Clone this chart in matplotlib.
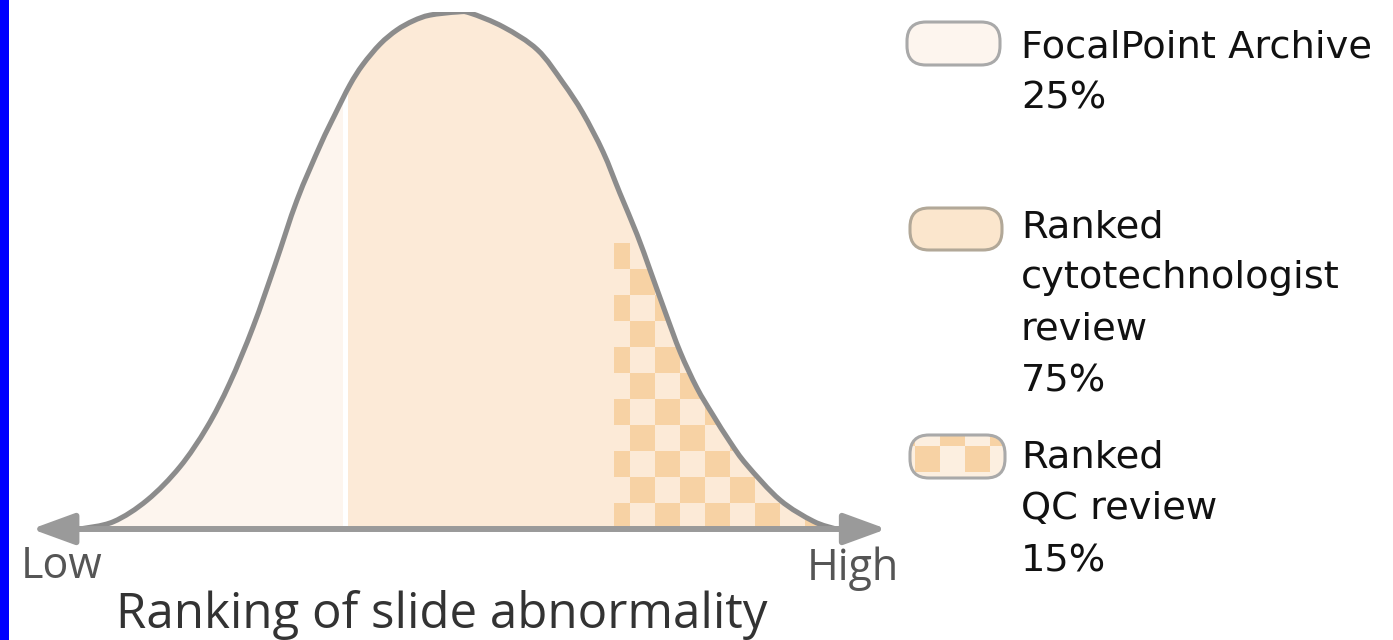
import numpy as np
import matplotlib.pyplot as plt
from matplotlib.patches import Rectangle, FancyBboxPatch, PathPatch
from matplotlib.path import Path

# bell curve: position on the ranking axis (0-100)
# and height as % of the peak
rank = [0, 4.4, 8.9, 13.2, 16.8, 19.8, 22.9, 25.8, 28.7, 31.8, 33.7, 35.7,
        37.4, 39.7, 41.9, 44.1, 46.3, 49.9, 51.6, 56.0, 60.5, 63.9, 66.5,
        69.2, 71.4, 73.7, 75.4, 77.4, 79.4, 81.6, 83.7, 86.0, 88.2, 92.6,
        97.0, 100]
height = [0, 1.4, 5.6, 12.0, 19.7, 28.2, 39.1, 51.1, 63.6, 74.3, 80.1, 85.9,
          89.8, 93.8, 96.5, 98.3, 99.4, 100, 99.8, 97.1, 92.7, 86.3, 80.5,
          72.9, 65.0, 56.9, 50.1, 42.0, 34.2, 27.3, 22.1, 16.8, 12.4, 5.6,
          1.5, 0]

archive_end = 35.1   # right edge of the FocalPoint Archive share
qc_start = 70.6      # left edge of the QC review share

legend_names = ["FocalPoint Archive", "Ranked\ncytotechnologist\nreview", "Ranked\nQC review"]
legend_pct = [25, 75, 15]

c_archive = "#fdf5ee"
c_ranked = "#fcead7"
c_check = "#f7d2a4"
c_curve = "#8c8c8c"
c_axis = "#9a9a9a"


def smooth_path(xs, ys, close=False):
    # Catmull-Rom through the read points, drawn as cubic Bezier segments
    pts = np.column_stack([xs, ys]).astype(float)
    n = len(pts)
    verts = [pts[0]]
    codes = [Path.MOVETO]
    for i in range(n - 1):
        p0 = pts[max(i - 1, 0)]
        p1 = pts[i]
        p2 = pts[i + 1]
        p3 = pts[min(i + 2, n - 1)]
        verts += [p1 + (p2 - p0) / 6, p2 - (p3 - p1) / 6, p2]
        codes += [Path.CURVE4] * 3
    if close:
        verts.append(pts[0])
        codes.append(Path.CLOSEPOLY)
    return Path(verts, codes)


W, H = 1393, 640
fig = plt.figure(figsize=(W / 100, H / 100), dpi=100)

# main chart axes: x 0..100 -> px 80..836, y 0..100 -> px 529..12
ax = fig.add_axes([80 / W, (H - 529) / H, 756 / W, 517 / H])
ax.set_xlim(0, 100)
ax.set_ylim(0, 100)
ax.axis("off")

shape = PathPatch(smooth_path(rank, height, close=True), facecolor=c_ranked,
                  edgecolor="none", zorder=1)
ax.add_patch(shape)

left = PathPatch(smooth_path(rank, height, close=True), facecolor=c_archive,
                 edgecolor="none", zorder=2)
ax.add_patch(left)
left.set_clip_path(Rectangle((0, 0), archive_end, 100, transform=ax.transData))

# checker pattern for the QC share
cw, ch = 3.31, 5.03
x0 = 69.4
for i in range(10):
    for j in range(11):
        if (i + j) % 2:
            continue
        xs = max(x0 + i * cw, qc_start)
        xe = x0 + (i + 1) * cw
        r = Rectangle((xs, j * ch), xe - xs, ch, facecolor=c_check,
                      edgecolor="none", zorder=3)
        ax.add_patch(r)
        r.set_clip_path(shape)

div = ax.axvline(archive_end, color="white", lw=3.6, zorder=4)
div.set_clip_path(shape)

ax.add_patch(PathPatch(smooth_path(rank, height), facecolor="none",
                       edgecolor=c_curve, lw=3.7, zorder=5))

ax.annotate("", xy=(-6.4, 0), xytext=(106.7, 0),
            arrowprops=dict(arrowstyle="<|-|>,head_length=2.6,head_width=0.95",
                            mutation_scale=10, color=c_axis, lw=4.3,
                            shrinkA=0, shrinkB=0),
            annotation_clip=False, zorder=6)

# overlay in pixel units for labels and legend
ov = fig.add_axes([0, 0, 1, 1])
ov.set_xlim(0, W)
ov.set_ylim(H, 0)
ov.axis("off")
ov.patch.set_visible(False)

ov.add_patch(Rectangle((0, 0), 9, H, facecolor="#0000ff", edgecolor="none"))

lab_font = ["Open Sans", "DejaVu Sans"]
ov.text(21, 578, "Low", fontsize=31, color="#555555", family=lab_font, va="baseline")
ov.text(807, 580, "High", fontsize=31, color="#555555", family=lab_font, va="baseline")
ov.text(116, 628, "Ranking of slide abnormality", fontsize=35.5, color="#333333",
        family=lab_font, va="baseline")

# legend swatches
box_specs = [(907, 22, 93, 43, c_archive, "#a9a9a9"),
             (910, 208, 92, 42, "#fbe6cd", "#b2a898"),
             (910, 435, 95, 43, "#fcefe0", "#a9a9a9")]
boxes = []
for bx, by, bw, bh, fc, ec in box_specs:
    b = FancyBboxPatch((bx, by), bw, bh, boxstyle="round,pad=0,rounding_size=19",
                       facecolor=fc, edgecolor=ec, lw=2.2, zorder=3)
    ov.add_patch(b)
    boxes.append(b)

for i in range(-1, 4):
    for j in range(2):
        if (i + j) % 2:
            continue
        r = Rectangle((915 + i * 25, 446 - j * 26), 25, 26, facecolor=c_check,
                      edgecolor="none", zorder=2)
        ov.add_patch(r)
        r.set_clip_path(boxes[2])
boxes[2].set_facecolor("none")
ov.add_patch(FancyBboxPatch((910, 435), 95, 43, boxstyle="round,pad=0,rounding_size=19",
                            facecolor="#fcefe0", edgecolor="none", zorder=1))

top_baselines = [57, 237, 468]
for name, pct, yb in zip(legend_names, legend_pct, top_baselines):
    lines = name.split("\n") + [f"{pct}%"]
    for k, s in enumerate(lines):
        ov.text(1021, yb + k * 51.5, s, fontsize=27.6, color="#111111",
                family="DejaVu Sans", va="baseline")

fig.savefig("out.png", dpi=100)
